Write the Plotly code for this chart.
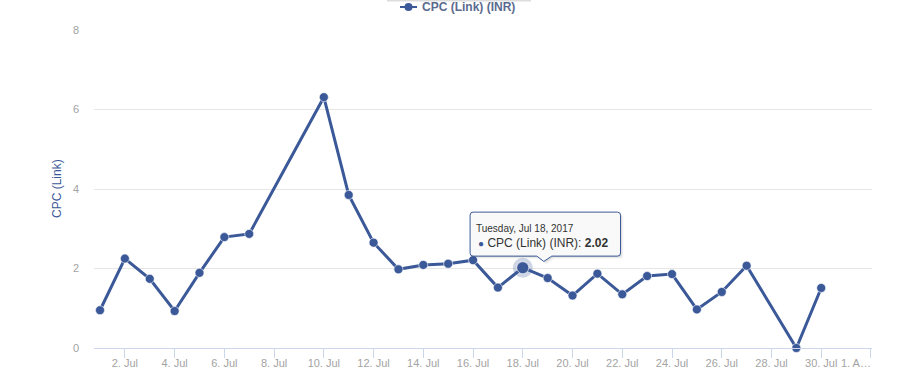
import plotly.graph_objects as go
from datetime import datetime

# ---------------- data ----------------
dates = [
    "2017-07-01", "2017-07-02", "2017-07-03", "2017-07-04", "2017-07-05",
    "2017-07-06", "2017-07-07", "2017-07-10", "2017-07-11", "2017-07-12",
    "2017-07-13", "2017-07-14", "2017-07-15", "2017-07-16", "2017-07-17",
    "2017-07-18", "2017-07-19", "2017-07-20", "2017-07-21", "2017-07-22",
    "2017-07-23", "2017-07-24", "2017-07-25", "2017-07-26", "2017-07-27",
    "2017-07-29", "2017-07-30",
]
values = [
    0.95, 2.25, 1.74, 0.93, 1.89, 2.79, 2.87, 6.31, 3.85, 2.65,
    1.98, 2.09, 2.12, 2.21, 1.52, 2.02, 1.76, 1.32, 1.87, 1.35,
    1.81, 1.86, 0.97, 1.41, 2.07, 0.00, 1.51,
]
series_name = "CPC (Link) (INR)"
y_title = "CPC (Link)"
x_tick_dates = [
    "2017-07-02", "2017-07-04", "2017-07-06", "2017-07-08", "2017-07-10",
    "2017-07-12", "2017-07-14", "2017-07-16", "2017-07-18", "2017-07-20",
    "2017-07-22", "2017-07-24", "2017-07-26", "2017-07-28", "2017-07-30",
    "2017-08-01",
]
x_tick_labels = [
    "2. Jul", "4. Jul", "6. Jul", "8. Jul", "10. Jul", "12. Jul", "14. Jul",
    "16. Jul", "18. Jul", "20. Jul", "22. Jul", "24. Jul", "26. Jul",
    "28. Jul", "30. Jul", "1. A…",
]
y_ticks = [0, 2, 4, 6, 8]
hover_date = "2017-07-18"

# ---------------- style ----------------
BLUE = "#3b5998"
FONT = "Liberation Sans, Arial, sans-serif"
LABEL_GRAY = "#a3a3a3"
AXIS_LINE = "#ccd6eb"

W, H = 918, 389
ML, MR, MT, MB = 94, 46, 30, 41
PW, PH = W - ML - MR, H - MT - MB


def px_x(p):
    return (p - ML) / PW


def px_y(p):
    return (H - MB - p) / PH


fig = go.Figure()

fig.add_trace(go.Scatter(
    x=dates, y=values, mode="lines+markers", name=series_name,
    line=dict(color=BLUE, width=3),
    marker=dict(color=BLUE, size=9, line=dict(color="rgba(255,255,255,0.6)", width=1)),
    cliponaxis=False, showlegend=False, hoverinfo="skip",
))

# hovered point (halo + enlarged marker)
hi = dates.index(hover_date)
fig.add_trace(go.Scatter(
    x=[dates[hi]], y=[values[hi]], mode="markers",
    marker=dict(color="rgba(59,89,152,0.25)", size=20),
    cliponaxis=False, showlegend=False, hoverinfo="skip",
))
fig.add_trace(go.Scatter(
    x=[dates[hi]], y=[values[hi]], mode="markers",
    marker=dict(color=BLUE, size=12, line=dict(color="rgba(255,255,255,0.6)", width=1)),
    cliponaxis=False, showlegend=False, hoverinfo="skip",
))

# ---------------- tooltip callout ----------------
def callout_path(dx=0.0, dy=0.0):
    L, R, T, B, r = -52.7 + dx, 97.7 + dx, 55.6 + dy, 11.6 + dy, 3
    bl, tip, br = 14 + dx, 21 + dx, 29 + dx
    tipy = 6.3 + dy
    return (f"M {L + r},{T} L {R - r},{T} Q {R},{T} {R},{T - r} "
            f"L {R},{B + r} Q {R},{B} {R - r},{B} L {br},{B} L {tip},{tipy} "
            f"L {bl},{B} L {L + r},{B} Q {L},{B} {L},{B + r} "
            f"L {L},{T - r} Q {L},{T} {L + r},{T} Z")


shapes = []
for off, alpha in [(3, 0.03), (2, 0.05), (1, 0.08)]:
    shapes.append(dict(
        type="path", path=callout_path(off, -off),
        xref="x", yref="y", xsizemode="pixel", ysizemode="pixel",
        xanchor=dates[hi], yanchor=values[hi],
        fillcolor=f"rgba(0,0,0,{alpha})", line=dict(width=0), layer="above",
    ))
shapes.append(dict(
    type="path", path=callout_path(),
    xref="x", yref="y", xsizemode="pixel", ysizemode="pixel",
    xanchor=dates[hi], yanchor=values[hi],
    fillcolor="rgba(250,250,250,0.97)", line=dict(color=BLUE, width=1), layer="above",
))

# ---------------- custom legend ----------------
leg_y = px_y(7)
shapes.append(dict(type="line", xref="paper", yref="paper",
                   x0=px_x(387), x1=px_x(531), y0=px_y(0.5), y1=px_y(0.5),
                   line=dict(color="#dddddd", width=2)))
shapes.append(dict(type="line", xref="paper", yref="paper",
                   x0=px_x(400), x1=px_x(417), y0=leg_y, y1=leg_y,
                   line=dict(color=BLUE, width=2)))
shapes.append(dict(type="circle", xref="paper", yref="paper",
                   xsizemode="pixel", ysizemode="pixel",
                   xanchor=px_x(408.5), yanchor=leg_y,
                   x0=-4, x1=4, y0=-4, y1=4,
                   fillcolor=BLUE, line=dict(width=0)))

hover_dt = datetime.strptime(dates[hi], "%Y-%m-%d")
hover_header = f"{hover_dt:%A}, {hover_dt:%b} {hover_dt.day}, {hover_dt.year}"

annotations = [
    dict(text=f"<b>{series_name}</b>", xref="paper", yref="paper",
         x=px_x(420), y=leg_y, xanchor="left", yanchor="middle", showarrow=False,
         font=dict(family=FONT, size=12, color="#5b6b8f")),
    dict(text=hover_header, xref="x", yref="y", x=dates[hi], y=values[hi],
         xanchor="left", yanchor="middle", xshift=-49, yshift=39.5, showarrow=False,
         font=dict(family=FONT, size=10, color="#333333")),
    dict(text=(f"<span style='color:{BLUE};font-size:10px'>●</span> "
               f"{series_name}: <b>{values[hi]:.2f}</b>"),
         xref="x", yref="y", x=dates[hi], y=values[hi],
         xanchor="left", yanchor="middle", xshift=-47, yshift=24.5, showarrow=False,
         font=dict(family=FONT, size=12, color="#333333")),
    dict(text=x_tick_labels[-1], xref="x", yref="paper", x=x_tick_dates[-1], y=0,
         xanchor="right", yanchor="top", xshift=2, yshift=-7, showarrow=False,
         font=dict(family=FONT, size=11, color=LABEL_GRAY)),
    dict(text=y_title, xref="paper", yref="paper", x=px_x(57), y=0.5,
         xanchor="center", yanchor="middle", textangle=-90, showarrow=False,
         font=dict(family=FONT, size=12, color=BLUE)),
]

tick_text = x_tick_labels[:-1] + [""]

fig.update_layout(
    width=W, height=H,
    margin=dict(l=ML, r=MR, t=MT, b=MB, autoexpand=False),
    paper_bgcolor="white", plot_bgcolor="white",
    font=dict(family=FONT, color=LABEL_GRAY, size=11),
    showlegend=False,
    shapes=shapes, annotations=annotations,
    xaxis=dict(
        type="date", range=["2017-06-30 18:12", "2017-08-01 01:00"],
        tickmode="array", tickvals=x_tick_dates, ticktext=tick_text,
        showgrid=False, zeroline=False,
        showline=True, linecolor=AXIS_LINE, linewidth=1,
        ticks="outside", ticklen=9, tickcolor=AXIS_LINE, tickwidth=1,
        ticklabelstandoff=-4,
        tickfont=dict(family=FONT, size=11, color=LABEL_GRAY),
        fixedrange=True,
    ),
    yaxis=dict(
        range=[0, 8], tickmode="array", tickvals=y_ticks,
        showgrid=True, gridcolor="#e6e6e6", gridwidth=1,
        zeroline=False, showline=False, ticks="",
        ticklabelstandoff=14,
        tickfont=dict(family=FONT, size=11, color=LABEL_GRAY),
        fixedrange=True,
    ),
)

fig.write_html("out.html", config={"displayModeBar": False},
               post_script="document.body.style.margin='0';")
